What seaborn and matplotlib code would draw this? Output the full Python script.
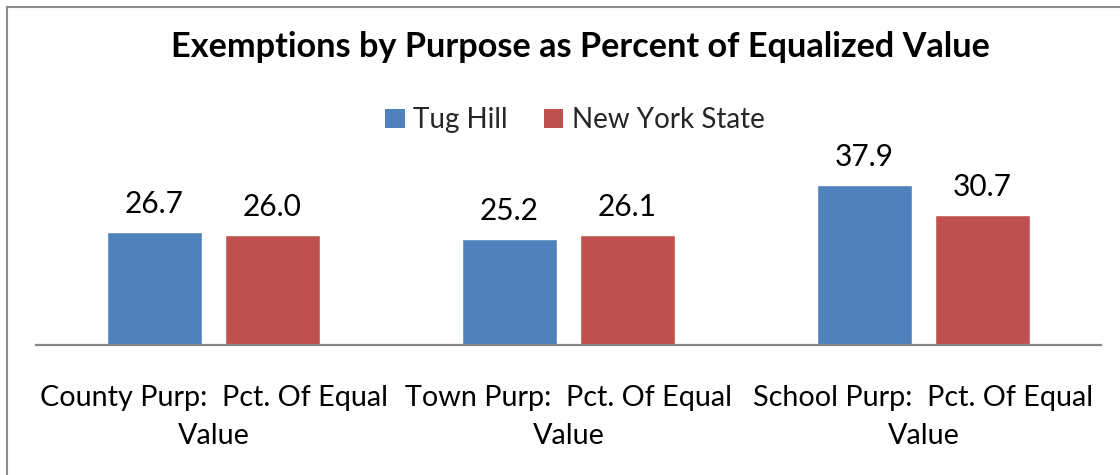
import matplotlib
matplotlib.use("Agg")
import matplotlib.pyplot as plt
from matplotlib.patches import Patch
from matplotlib.lines import Line2D
import seaborn as sns
import pandas as pd

# Data
categories = [
    "County Purp:  Pct. Of Equal\nValue",
    "Town Purp:  Pct. Of Equal\nValue",
    "School Purp:  Pct. Of Equal\nValue",
]
series_names = ["Tug Hill", "New York State"]
tug_hill = [26.7, 25.2, 37.9]
new_york_state = [26.0, 26.1, 30.7]

colors = ["#4F81BD", "#C0504D"]
title = "Exemptions by Purpose as Percent of Equalized Value"

df = pd.DataFrame({
    "category": categories * 2,
    "series": [series_names[0]] * 3 + [series_names[1]] * 3,
    "value": tug_hill + new_york_state,
})

sns.set_theme(style="white")
plt.rcParams["font.family"] = ["Lato", "DejaVu Sans"]

W, H = 1120, 475
fig = plt.figure(figsize=(W / 100, H / 100), dpi=100)
fig.patch.set_facecolor("white")

# Plot area: baseline at y=345 px, category band from x=36 to x=1101 px
ax_left, ax_right = 36, 1101
ax_bottom, ax_top = 345, 176
ax = fig.add_axes([ax_left / W, 1 - ax_bottom / H,
                   (ax_right - ax_left) / W, (ax_bottom - ax_top) / H])

sns.barplot(data=df, x="category", y="value", hue="series",
            hue_order=series_names, palette=colors, order=categories,
            width=0.665, gap=0.195, saturation=1, legend=False, ax=ax)

ax.set_ylim(0, 40)
ax.set_xlim(-0.5, 2.5)
ax.set_xlabel("")
ax.set_ylabel("")
ax.set_yticks([])
for side in ["top", "right", "left"]:
    ax.spines[side].set_visible(False)
ax.spines["bottom"].set_color("#868686")
ax.spines["bottom"].set_linewidth(1.6)
ax.tick_params(axis="x", length=0, pad=29, labelsize=20.7, colors="black")
for lbl in ax.get_xticklabels():
    lbl.set_linespacing(1.55)
    lbl.set_ha("center")

for cont in ax.containers:
    ax.bar_label(cont, fmt="%.1f", padding=10, fontsize=21.5, color="black",
                 clip_on=False)

# Title
fig.text(580 / W, 1 - 47 / H, title, ha="center", va="center",
         fontsize=24.7, fontweight="bold", color="black")

# Legend
handles = [Patch(facecolor=c, edgecolor="none") for c in colors]
fig.legend(handles, series_names, loc="center",
           bbox_to_anchor=(575 / W, 1 - 120 / H), ncol=2, frameon=False,
           fontsize=20, handlelength=0.7, handleheight=0.7,
           handletextpad=0.3, columnspacing=1.3, borderaxespad=0)

# Chart frame (top and left edges)
frame_color = "#8C8C8C"
fig.add_artist(Line2D([6.5 / W, 6.5 / W], [0, 1 - 7 / H],
                      transform=fig.transFigure, color=frame_color, lw=1.5))
fig.add_artist(Line2D([6.5 / W, 1], [1 - 7 / H, 1 - 7 / H],
                      transform=fig.transFigure, color=frame_color, lw=1.5))

fig.savefig("out.png", dpi=100, facecolor="white")
